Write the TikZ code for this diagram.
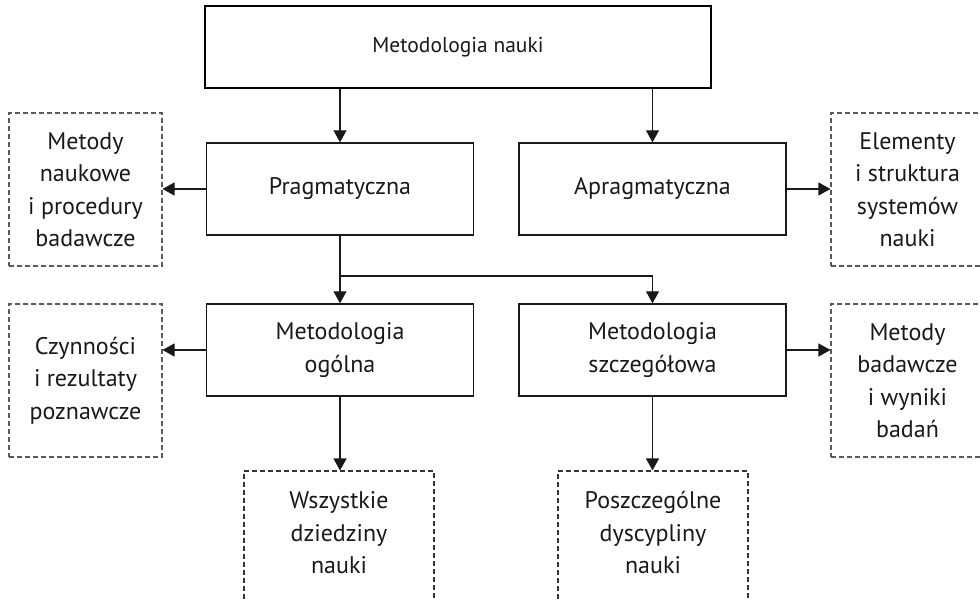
\documentclass[tikz,border=0pt]{standalone}
\usepackage{fontspec}
\setmainfont{PT Sans}
\usetikzlibrary{arrows.meta}
\begin{document}
\begin{tikzpicture}[x=1pt,y=-1pt,
  txt/.style={font=\fontsize{24}{32.5}\selectfont,align=center,text=black!90},
  solidbox/.style={txt,draw=black!90,line width=1.4pt,minimum width=267pt,minimum height=92pt,inner sep=0pt},
  mainbox/.style={txt,font=\fontsize{21.5}{32.5}\selectfont,draw=black,line width=2.4pt,minimum width=506pt,minimum height=82pt,inner sep=0pt},
  dashbox/.style={txt,draw=black!65,line width=1.1pt,dash pattern=on 5pt off 3pt,minimum width=153pt,minimum height=153pt,inner sep=0pt},
  lowbox/.style={draw=black!80,line width=1.1pt,dash pattern=on 5pt off 3pt,minimum width=190pt,minimum height=153pt,inner sep=0pt},
  arr/.style={draw=black!90,line width=1.1pt,-{Triangle[length=12pt,width=13pt]}},
  link/.style={draw=black!90,line width=1.1pt}]
\useasboundingbox (0,0) rectangle (980,601);
\fill[white] (0,0) rectangle (980,601);
\clip (0,0) rectangle (980,601);

% main levels
\node[mainbox]  (top)    at (458,47)    {Metodologia nauki};
\node[solidbox] (prag)   at (340,189)   {Pragmatyczna};
\node[solidbox] (aprag)  at (652.5,189) {Apragmatyczna};
\node[solidbox] (ogolna) at (340,350)   {Metodologia\\ogólna};
\node[solidbox] (szcz)   at (652.5,350) {Metodologia\\szczegółowa};

% side notes
\node[dashbox] (left1)  at (85.5,189.5)  {Metody\\naukowe\\i procedury\\badawcze};
\node[dashbox] (right1) at (907.5,189.5) {Elementy\\i struktura\\systemów\\nauki};
\node[dashbox] (left2)  at (85.5,380.5)  {Czynności\\i rezultaty\\poznawcze};
\node[dashbox] (right2) at (907.5,380.5) {Metody\\badawcze\\i wyniki\\badań};

% lower boxes, running past the bottom edge
\node[lowbox] (bot1) at (339,547.5) {};
\node[lowbox] (bot2) at (653,547.5) {};
\node[txt] (bot1t) at (339,533) {Wszystkie\\dziedziny\\nauki};
\node[txt] (bot2t) at (653,533) {Poszczególne\\dyscypliny\\nauki};

% connectors
\draw[arr] (top.south -| prag.north) -- (prag.north);
\draw[arr] (top.south -| aprag.north) -- (aprag.north);
\draw[arr] (prag.west) -- (prag.west -| left1.east);
\draw[arr] (aprag.east) -- (aprag.east -| right1.west);
\coordinate (fork) at (340,276);
\draw[arr] (prag.south) -- (ogolna.north);
\draw[arr] (fork) -| (szcz.north);
\draw[arr] (ogolna.west) -- (ogolna.west -| left2.east);
\draw[arr] (szcz.east) -- (szcz.east -| right2.west);
\draw[arr] (ogolna.south) -- (bot1.north -| ogolna.south);
\draw[arr] (szcz.south) -- (bot2.north -| szcz.south);
\end{tikzpicture}
\end{document}
